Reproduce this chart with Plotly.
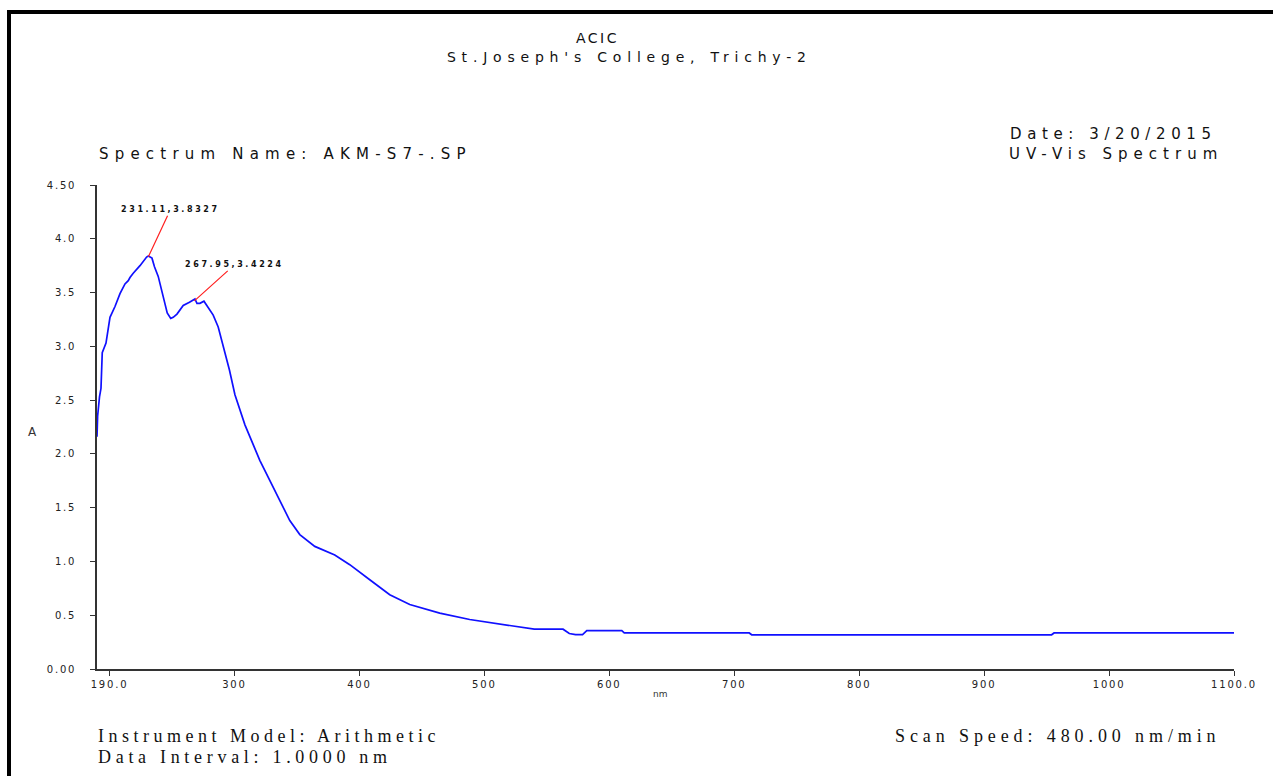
import plotly.graph_objects as go

# ---- data ----
wavelength_nm = [190, 190.5, 192, 193.2, 194.2, 197.2, 200.4, 204.4, 208.4, 212.4, 215, 216.4,
                 219, 224.4, 229.7, 231.1, 234, 236, 239, 243, 246.2, 249, 251, 254, 259, 264,
                 268.4, 270, 272.4, 275.6, 279, 283, 287, 291, 296, 300.4, 308.4, 320.3, 332.3,
                 344.3, 352.3, 364.3, 380.3, 392.3, 408.3, 424.3, 440.3, 464.3, 488.3, 512.3,
                 536, 540, 563, 568, 573, 578.6, 582, 610, 612, 712, 714, 954, 956, 1100]
absorbance = [2.16, 2.35, 2.53, 2.61, 2.94, 3.03, 3.27, 3.37, 3.49, 3.58, 3.61, 3.64,
              3.68, 3.75, 3.83, 3.84, 3.82, 3.74, 3.65, 3.46, 3.31, 3.26, 3.27, 3.30, 3.38, 3.41,
              3.44, 3.40, 3.40, 3.42, 3.36, 3.29, 3.18, 3.01, 2.78, 2.55, 2.27, 1.94, 1.66,
              1.38, 1.25, 1.14, 1.06, 0.97, 0.83, 0.69, 0.60, 0.52, 0.46, 0.42,
              0.38, 0.37, 0.37, 0.33, 0.32, 0.32, 0.356, 0.356, 0.335, 0.335, 0.318, 0.318, 0.335, 0.335]

peak_nm = [231.11, 267.95]
peak_A = [3.8327, 3.4224]

x_tick_vals = [200, 300, 400, 500, 600, 700, 800, 900, 1000, 1100]
x_tick_text = ["190.0", "300", "400", "500", "600", "700", "800", "900", "1000", "1100.0"]
y_tick_vals = [0, 0.5, 1.0, 1.5, 2.0, 2.5, 3.0, 3.5, 4.0, 4.5]
y_tick_text = ["0.00", "0.5", "1.0", "1.5", "2.0", "2.5", "3.0", "3.5", "4.0", "4.50"]

W, H = 1273, 776
L, R, T, B = 97, 39, 185, 107
PW, PH = W - L - R, H - T - B


def px(x):
    return (x - L) / PW


def py(y):
    return (H - B - y) / PH


SANS = "DejaVu Sans"
SERIF = "Liberation Serif"

fig = go.Figure()
fig.add_trace(go.Scatter(x=wavelength_nm, y=absorbance, mode="lines",
                         line=dict(color="#1010ff", width=1.7), showlegend=False,
                         hoverinfo="skip"))

annotations = []


def text(t, x, y, size, font=SANS, xanchor="left", color="#111111"):
    annotations.append(dict(text=t, x=px(x), y=py(y), xref="paper", yref="paper",
                            xanchor=xanchor, yanchor="middle", showarrow=False,
                            align=xanchor if xanchor != "center" else "center",
                            font=dict(family=font, size=size, color=color)))


text("ACIC", 597, 38, 14, xanchor="center")
text("St.Joseph's College, Trichy-2", 629, 57, 14, xanchor="center")
text("Spectrum Name: AKM-S7-.SP", 97, 154, 15)
text("Date: 3/20/2015", 1008, 134, 15)
text("UV-Vis Spectrum", 1007, 154, 15)
text("Instrument Model: Arithmetic", 96, 736, 18, font=SERIF)
text("Data Interval: 1.0000 nm", 96, 757, 18, font=SERIF)
text("Scan Speed: 480.00 nm/min", 893, 736, 18, font=SERIF)
text("A", 32, 432, 12, xanchor="center", color="#333333")
text("nm", 660, 694, 9, xanchor="center", color="#333333")

# peak labels with red leader lines
offsets = [(22, -47), (40, -36)]
for (nmv, av), (ax, ay) in zip(zip(peak_nm, peak_A), offsets):
    annotations.append(dict(x=nmv, y=av, xref="x", yref="y",
                            text=f"{nmv:.2f},{av:.4f}", showarrow=True,
                            arrowhead=0, arrowwidth=1.2, arrowcolor="#ff2020",
                            ax=ax, ay=ay, standoff=0,
                            font=dict(family=SANS, size=8, color="#111111", weight="bold")))

fig.update_layout(
    width=W, height=H,
    margin=dict(l=L, r=R, t=T, b=B, autoexpand=False),
    paper_bgcolor="white", plot_bgcolor="white",
    annotations=annotations,
    shapes=[
        dict(type="line", xref="paper", yref="paper", x0=px(9), x1=px(9), y0=py(10), y1=py(790),
             line=dict(color="black", width=4)),
        dict(type="line", xref="paper", yref="paper", x0=px(7), x1=px(1290), y0=py(12), y1=py(12),
             line=dict(color="black", width=4)),
    ],
    xaxis=dict(range=[190, 1100], tickvals=x_tick_vals, ticktext=x_tick_text,
               showgrid=False, zeroline=False, showline=True, linecolor="#333333", linewidth=1.5,
               ticks="outside", ticklen=5, tickcolor="#333333", tickwidth=1.2,
               tickfont=dict(family=SANS, size=10, color="#222222")),
    yaxis=dict(range=[0, 4.5], tickvals=y_tick_vals, ticktext=y_tick_text,
               showgrid=False, zeroline=False, showline=True, linecolor="#333333", linewidth=1.5,
               ticks="outside", ticklen=5, tickcolor="#333333", tickwidth=1.2,
               ticklabelstandoff=12,
               tickfont=dict(family=SANS, size=10, color="#222222")),
)

post = """
document.body.style.margin = '0';
document.body.style.overflow = 'hidden';
var sp = {
 "ACIC": 2.5, "St.Joseph's College, Trichy-2": 5.8, "Spectrum Name: AKM-S7-.SP": 6.2,
 "Date: 3/20/2015": 5.6, "UV-Vis Spectrum": 6.0,
 "Instrument Model: Arithmetic": 4.5, "Data Interval: 1.0000 nm": 4.7,
 "Scan Speed: 480.00 nm/min": 4.9
};
document.querySelectorAll('.annotation-text').forEach(function(t){
  var s = sp[t.textContent];
  if (s === undefined && /^[0-9.]+,[0-9.]+$/.test(t.textContent)) s = 2.6;
  if (s !== undefined) t.style.letterSpacing = s + 'px';
});
document.querySelectorAll('.xtick text, .ytick text').forEach(function(t){
  t.style.letterSpacing = '1.8px';
});
"""
fig.write_html("out.html", post_script=post, config={"displayModeBar": False})
